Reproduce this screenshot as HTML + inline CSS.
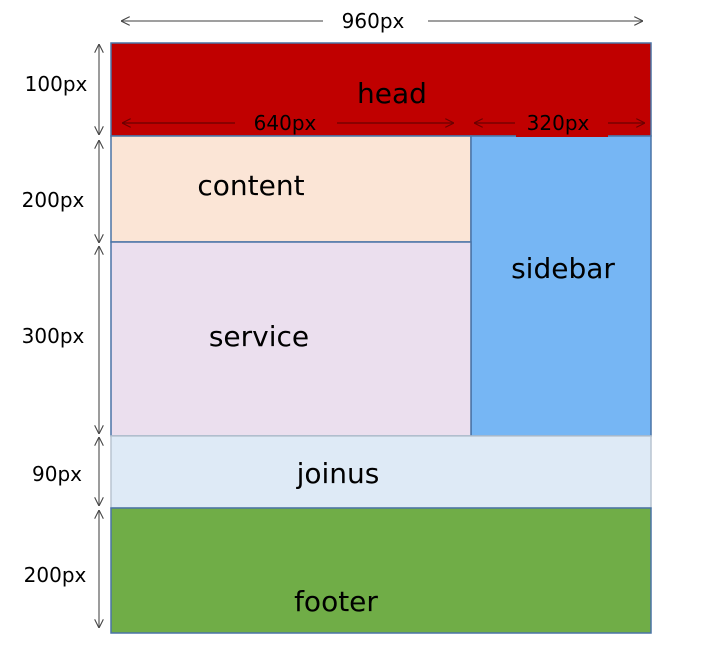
<!DOCTYPE html>
<html><head><meta charset="utf-8"><style>
body{margin:0;width:709px;height:663px;background:#fff;overflow:hidden}
svg text{font-family:"DejaVu Sans","Liberation Sans",sans-serif}
</style></head><body>
<svg width="709" height="663" viewBox="0 0 709 663" xmlns="http://www.w3.org/2000/svg">
<defs>
<marker id="a" viewBox="0 0 10 10" refX="10" refY="5" markerWidth="9" markerHeight="9" orient="auto-start-reverse" markerUnits="userSpaceOnUse"><path d="M0,0 L10,5 L0,10" fill="none" stroke="#444" stroke-width="1.2"/></marker>
<marker id="r" viewBox="0 0 10 10" refX="10" refY="5" markerWidth="9" markerHeight="9" orient="auto-start-reverse" markerUnits="userSpaceOnUse"><path d="M0,0 L10,5 L0,10" fill="none" stroke="#6a0000" stroke-width="1.2"/></marker>
</defs>
<g stroke="#4a74a6" stroke-width="1.5">
<rect x="111" y="43" width="540" height="93" fill="#c00000"/>
<rect x="111" y="136" width="360" height="106" fill="#fbe5d6"/>
<rect x="471" y="136" width="180" height="300" fill="#76b6f4"/>
<rect x="111" y="242" width="360" height="194" fill="#ebdfee"/>
<rect x="111" y="436" width="540" height="72" fill="#deeaf6" stroke="#b8c4d0"/>
<rect x="111" y="508" width="540" height="125" fill="#70ad47"/>
</g>
<rect x="516" y="116" width="92" height="21" fill="#c00000"/>
<g stroke="#666" stroke-width="1.3" fill="none">
<line x1="121" y1="21" x2="323" y2="21" marker-start="url(#a)"/>
<line x1="428" y1="21" x2="643" y2="21" marker-end="url(#a)"/>
<line x1="99" y1="44" x2="99" y2="135" marker-start="url(#a)" marker-end="url(#a)"/>
<line x1="99" y1="140" x2="99" y2="243" marker-start="url(#a)" marker-end="url(#a)"/>
<line x1="99" y1="246" x2="99" y2="434" marker-start="url(#a)" marker-end="url(#a)"/>
<line x1="99" y1="437" x2="99" y2="506" marker-start="url(#a)" marker-end="url(#a)"/>
<line x1="99" y1="510" x2="99" y2="628" marker-start="url(#a)" marker-end="url(#a)"/>
</g>
<g stroke="#6a0000" stroke-width="1.3" fill="none">
<line x1="122" y1="123" x2="235" y2="123" marker-start="url(#r)"/>
<line x1="337" y1="123" x2="454" y2="123" marker-end="url(#r)"/>
<line x1="474" y1="123" x2="515" y2="123" marker-start="url(#r)"/>
<line x1="608" y1="123" x2="645" y2="123" marker-end="url(#r)"/>
</g>
<g font-size="20" fill="#000" text-anchor="middle">
<text x="373" y="28">960px</text>
<text x="285" y="130">640px</text>
<text x="558" y="130">320px</text>
<text x="56" y="91">100px</text>
<text x="53" y="207">200px</text>
<text x="53" y="343">300px</text>
<text x="57" y="481">90px</text>
<text x="55" y="582">200px</text>
</g>
<g font-size="28" fill="#000" text-anchor="middle">
<text x="392" y="103">head</text>
<text x="251" y="195">content</text>
<text x="563" y="278">sidebar</text>
<text x="259" y="346">service</text>
<text x="338" y="483">joinus</text>
<text x="336" y="611">footer</text>
</g>
</svg>
</body></html>
